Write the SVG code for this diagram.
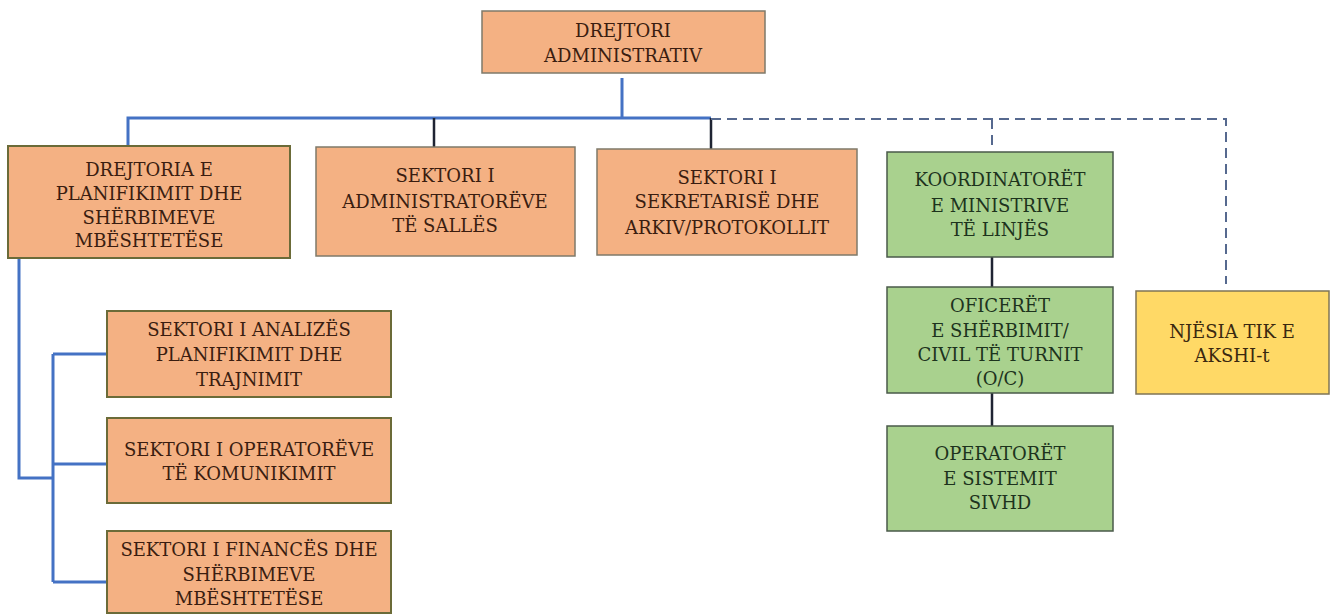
<svg xmlns="http://www.w3.org/2000/svg" width="1333" height="614" viewBox="0 0 1333 614">
<style>
text{font-family:'DejaVu Serif','Liberation Serif',serif;font-size:18px;text-anchor:middle}
.o{fill:#F4B183;stroke:#7f7a6a;stroke-width:1.5}
.ol{fill:#F4B183;stroke:#6b6b38;stroke-width:2}
.g{fill:#A9D18E;stroke:#4a5a4a;stroke-width:1.5}
.y{fill:#FFD966;stroke:#7f7455;stroke-width:1.5}
.to{fill:#3a1d10}
.tg{fill:#1d331d}
.ty{fill:#3a2810}
.bl{stroke:#4472C4;stroke-width:3;fill:none}
.bk{stroke:#1f2433;stroke-width:2.5;fill:none}
.ds{stroke:#56698f;stroke-width:2;stroke-dasharray:10,6;fill:none}
</style>
<rect width="1333" height="614" fill="#fff"/>
<g id="connectors">
<path class="bl" d="M622 78V118M128 146V118H711"/>
<path class="bk" d="M434 118V147M711 118V149"/>
<path class="ds" d="M711 119H1226V284M992 119V146"/>
<path class="bk" d="M992 257V287M992 393V426"/>
<path class="bl" d="M19 258V478H53M53 354V582M53 354H107M53 464H107M53 582H107"/>
</g>
<g id="n-top"><rect class="o" x="482" y="11" width="283" height="62"/><text class="to" x="623" y="37">DREJTORI</text><text class="to" x="623" y="62">ADMINISTRATIV</text></g>
<g id="n-drejtoria"><rect class="ol" x="8" y="146" width="282" height="112"/><text class="to" x="149" y="176">DREJTORIA E</text><text class="to" x="149" y="200">PLANIFIKIMIT DHE</text><text class="to" x="149" y="224">SHËRBIMEVE</text><text class="to" x="149" y="247">MBËSHTETËSE</text></g>
<g id="n-salles"><rect class="o" x="316" y="147" width="259" height="109"/><text class="to" x="445" y="182">SEKTORI I</text><text class="to" x="445" y="208">ADMINISTRATORËVE</text><text class="to" x="445" y="232">TË SALLËS</text></g>
<g id="n-sekretaria"><rect class="o" x="597" y="149" width="260" height="106"/><text class="to" x="727" y="184">SEKTORI I</text><text class="to" x="727" y="208">SEKRETARISË DHE</text><text class="to" x="727" y="234">ARKIV/PROTOKOLLIT</text></g>
<g id="n-koord"><rect class="g" x="887" y="152" width="226" height="105"/><text class="tg" x="1000" y="186">KOORDINATORËT</text><text class="tg" x="1000" y="212">E MINISTRIVE</text><text class="tg" x="1000" y="236">TË LINJËS</text></g>
<g id="n-oficeret"><rect class="g" x="887" y="287" width="226" height="106"/><text class="tg" x="1000" y="312">OFICERËT</text><text class="tg" x="1000" y="337">E SHËRBIMIT/</text><text class="tg" x="1000" y="361">CIVIL TË TURNIT</text><text class="tg" x="1000" y="385">(O/C)</text></g>
<g id="n-operatoret"><rect class="g" x="887" y="426" width="226" height="105"/><text class="tg" x="1000" y="460">OPERATORËT</text><text class="tg" x="1000" y="485">E SISTEMIT</text><text class="tg" x="1000" y="509">SIVHD</text></g>
<g id="n-tik"><rect class="y" x="1136" y="291" width="193" height="103"/><text class="ty" x="1232" y="338">NJËSIA TIK E</text><text class="ty" x="1232" y="362">AKSHI-t</text></g>
<g id="n-analizes"><rect class="ol" x="107" y="311" width="284" height="86"/><text class="to" x="249" y="336">SEKTORI I ANALIZËS</text><text class="to" x="249" y="361">PLANIFIKIMIT DHE</text><text class="to" x="249" y="386">TRAJNIMIT</text></g>
<g id="n-operatoreve"><rect class="ol" x="107" y="418" width="284" height="85"/><text class="to" x="249" y="456">SEKTORI I OPERATORËVE</text><text class="to" x="249" y="480">TË KOMUNIKIMIT</text></g>
<g id="n-finances"><rect class="ol" x="107" y="531" width="284" height="82"/><text class="to" x="249" y="556">SEKTORI I FINANCËS DHE</text><text class="to" x="249" y="581">SHËRBIMEVE</text><text class="to" x="249" y="605">MBËSHTETËSE</text></g>
</svg>
